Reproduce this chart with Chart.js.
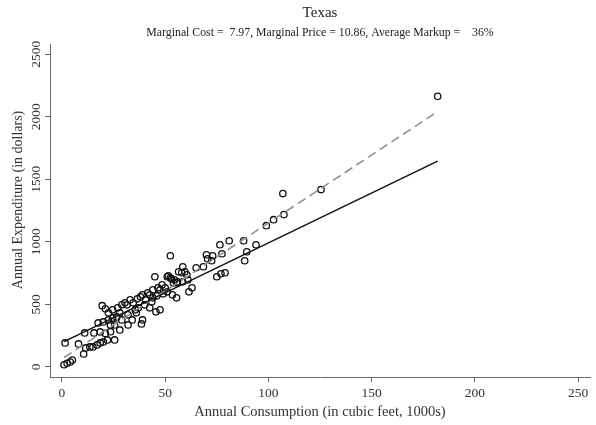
<!DOCTYPE html>
<html>
<head>
<meta charset="utf-8">
<script src="https://cdn.jsdelivr.net/npm/chart.js@4.4.1/dist/chart.umd.min.js"></script>
<style>
  html, body { margin: 0; padding: 0; background: #fff; }
  canvas { display: block; }
</style>
</head>
<body>
<canvas id="chart" width="596" height="425"></canvas>
<script>
// Texas households: annual gas consumption vs. annual expenditure
const consumption = [
  182, 125.5, 107, 107.5, 102.5, 99, 94, 89.5, 88.5, 88, 81, 76.5, 77.5, 73, 70, 70.5,
  72.5, 68.5, 65, 52.5, 58.5, 59.5, 58, 60.5, 79, 77, 75, 63, 55.5, 58.5, 61, 52.5,
  54.5, 56, 45, 51, 56.5, 51.5, 53, 54, 48.5, 46.5, 44, 41.5, 39, 36.5, 51, 53.5,
  55.5, 61.5, 29, 31.5, 34.5, 38, 43.5, 44, 36, 39, 38.5, 45.5, 47.5, 28, 29, 28,
  1.5, 8, 11.5, 13.5, 15, 17, 18.5, 20, 22, 11, 4, 2.5, 1, 5, 19.5, 21,
  15.5, 18.5, 17.5, 20, 22.5, 24.5, 26.5, 21, 23.5, 22.5, 24.5, 27, 30.5, 23.5, 25.5, 25.5,
  10.5, 33, 35.5, 32, 40, 42.5, 47.5, 50, 32, 34, 37, 40.5, 42.5, 46, 49
];
const expenditure = [
  2163, 1418, 1386, 1218, 1177, 1129, 977, 921, 849, 1009, 1009, 977, 905, 889, 897, 865,
  849, 801, 793, 889, 801, 761, 753, 737, 753, 745, 721, 633, 673, 681, 697, 713,
  697, 681, 721, 721, 761, 729, 705, 673, 657, 633, 617, 593, 577, 545, 601, 577,
  553, 601, 497, 497, 513, 561, 521, 553, 433, 376, 344, 441, 457, 433, 376, 296,
  192, 184, 152, 160, 160, 176, 192, 200, 216, 272, 40, 30, 18, 56, 490, 465,
  272, 280, 352, 360, 376, 392, 400, 268, 282, 433, 457, 473, 513, 336, 336, 216,
  104, 537, 457, 417, 497, 577, 617, 633, 336, 376, 473, 537, 473, 569, 585
];

// fitted lines: marginal cost (solid) and marginal price (dashed)
const marginalCost = 7.97;
const marginalPrice = 10.86;
const averageMarkup = 36;
const lineRange = [1, 182];
const costIntercept = 195;
const priceIntercept = 65;

const xTicks = [0, 50, 100, 150, 200, 250];
const yTicks = [0, 500, 1000, 1500, 2000, 2500];

const FONT = "'Liberation Serif', 'Times New Roman', serif";
const TEXT = '#333';
const AXIS = '#666';

const points = consumption.map((x, i) => ({ x, y: expenditure[i] }));
const costLine = lineRange.map(x => ({ x, y: costIntercept + marginalCost * x }));
const priceLine = lineRange.map(x => ({ x, y: priceIntercept + marginalPrice * x }));

// y tick labels and y title are drawn rotated, reading bottom to top
const yLabelPlugin = {
  id: 'yLabels',
  afterDraw(chart) {
    const { ctx, scales: { y }, chartArea } = chart;
    const rotated = (text, x, yy) => {
      ctx.save();
      ctx.translate(x, yy);
      ctx.rotate(-Math.PI / 2);
      ctx.fillText(text, 0, 0);
      ctx.restore();
    };
    ctx.save();
    ctx.fillStyle = TEXT;
    ctx.textAlign = 'center';
    ctx.textBaseline = 'middle';
    ctx.font = `13.5px ${FONT}`;
    yTicks.forEach(v => rotated(String(v), chartArea.left - 14, y.getPixelForValue(v)));
    ctx.font = `14px ${FONT}`;
    rotated('Annual Expenditure (in dollars)', 18, y.getPixelForValue(1335));
    ctx.restore();
  }
};

new Chart(document.getElementById('chart'), {
  type: 'scatter',
  data: {
    datasets: [
      {
        data: points,
        pointStyle: 'circle',
        pointRadius: 3.2,
        pointBorderWidth: 1.3,
        pointBorderColor: '#111',
        pointBackgroundColor: 'rgba(0,0,0,0)',
        order: 2
      },
      {
        type: 'line',
        data: priceLine,
        borderColor: '#909090',
        borderWidth: 1.6,
        borderDash: [9, 5],
        pointRadius: 0,
        fill: false,
        order: 1
      },
      {
        type: 'line',
        data: costLine,
        borderColor: '#111',
        borderWidth: 1.5,
        pointRadius: 0,
        fill: false,
        order: 0
      }
    ]
  },
  options: {
    responsive: false,
    animation: false,
    layout: { padding: { left: 0, right: 6, top: 0, bottom: 0 } },
    plugins: {
      legend: { display: false },
      tooltip: { enabled: false },
      title: {
        display: true,
        fullSize: false,
        text: 'Texas',
        color: '#222',
        font: { family: FONT, size: 15, weight: 'normal' },
        padding: { top: 4, bottom: 4 }
      },
      subtitle: {
        display: true,
        fullSize: false,
        text: `Marginal Cost =  ${marginalCost.toFixed(2)}, Marginal Price = ${marginalPrice.toFixed(2)}, Average Markup =    ${averageMarkup}%`,
        color: '#222',
        font: { family: FONT, size: 11.8, weight: 'normal' },
        padding: { top: 0, bottom: 4 }
      }
    },
    scales: {
      x: {
        type: 'linear',
        min: -5.81,
        max: 255.8,
        afterBuildTicks: s => { s.ticks = xTicks.map(v => ({ value: v })); },
        afterFit: s => { s.height = 48; },
        border: { display: true, color: AXIS, width: 1 },
        grid: { display: true, drawOnChartArea: false, drawTicks: true, tickLength: 5, color: AXIS },
        ticks: { color: TEXT, padding: 3, font: { family: FONT, size: 13.5 }, maxRotation: 0 },
        title: {
          display: true,
          text: 'Annual Consumption (in cubic feet, 1000s)',
          color: TEXT,
          font: { family: FONT, size: 14.5 },
          padding: { top: 0, bottom: 4 }
        }
      },
      y: {
        type: 'linear',
        min: -80,
        max: 2580,
        afterBuildTicks: s => { s.ticks = yTicks.map(v => ({ value: v })); },
        afterFit: s => { s.width = 50; },
        border: { display: true, color: AXIS, width: 1 },
        grid: { display: true, drawOnChartArea: false, drawTicks: true, tickLength: 5, color: AXIS },
        ticks: { display: false },
        title: { display: false }
      }
    }
  },
  plugins: [yLabelPlugin]
});
</script>
</body>
</html>
